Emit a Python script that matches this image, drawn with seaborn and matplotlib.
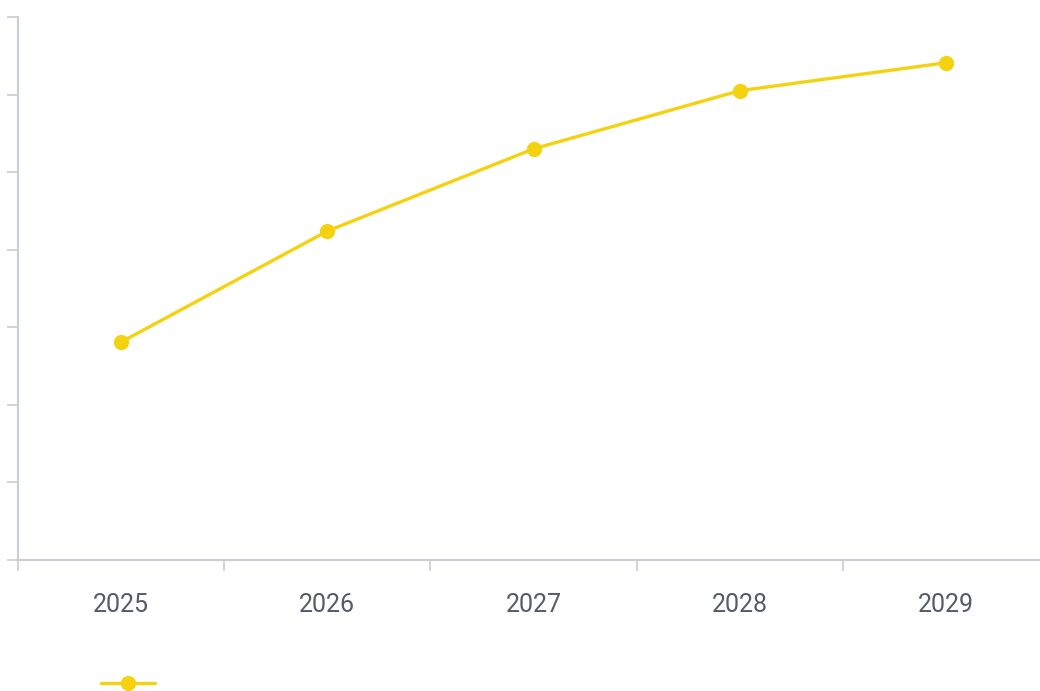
import pandas as pd
import seaborn as sns
import matplotlib.pyplot as plt

years = ['2025', '2026', '2027', '2028', '2029']
values = [28.1, 42.4, 53.0, 60.5, 64.1]

df = pd.DataFrame({'Year': years, 'Value': values})

sns.set_style('white')
plt.rcParams['font.family'] = ['Roboto', 'DejaVu Sans']

fig = plt.figure(figsize=(10.4, 6.91), dpi=100)
ax = fig.add_axes([18 / 1040, 1 - 560 / 691, 1031 / 1040, 543 / 691])

line_color = '#f5d20f'
axis_color = '#c9cdd6'
text_color = '#555b69'

sns.lineplot(data=df, x='Year', y='Value', ax=ax, color=line_color, linewidth=2.4,
             marker='o', markersize=11, markeredgewidth=0, label=' ', sort=False)

ax.set_xlim(-0.5, 4.5)
ax.set_ylim(0, 70)
ax.set_yticks(range(0, 71, 10))
ax.set_yticklabels([])
ax.set_xticks(range(len(years)))
ax.set_xticklabels(years)
ax.set_xticks([i - 0.5 for i in range(len(years))], minor=True)
ax.tick_params(axis='x', which='major', bottom=True, length=0, pad=24,
               labelsize=18, labelcolor=text_color)
ax.tick_params(axis='x', which='minor', bottom=True, length=8, width=1.2,
               color=axis_color, direction='out')
ax.tick_params(axis='y', left=True, length=8, width=1.2, color=axis_color, direction='out')
ax.set_xlabel('')
ax.set_ylabel('')

for side in ['top', 'right']:
    ax.spines[side].set_visible(False)
for side in ['left', 'bottom']:
    ax.spines[side].set_color(axis_color)
    ax.spines[side].set_linewidth(1.5)

ax.legend(loc='center left', bbox_to_anchor=(101 / 1040, 1 - 685 / 691),
          bbox_transform=fig.transFigure, frameon=False, fontsize=14,
          handlelength=2.8, borderpad=0, borderaxespad=0)

fig.savefig('out.png', dpi=100)
